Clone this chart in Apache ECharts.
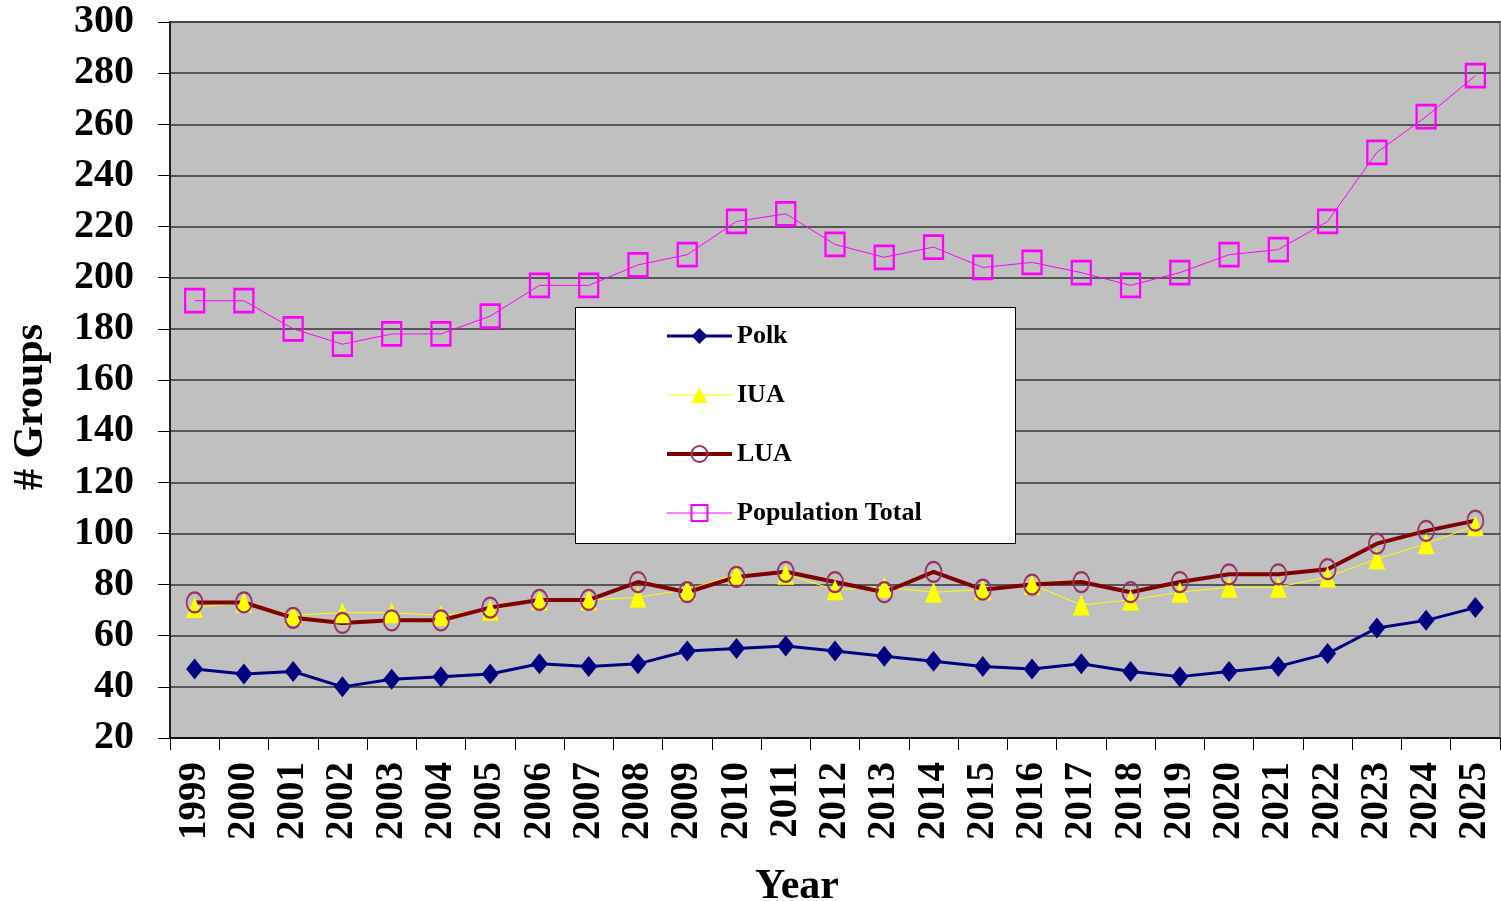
<!DOCTYPE html>
<html lang="en">
<head>
    <meta charset="UTF-8">
    <title>Groups by Year</title>
    <script src="https://cdn.jsdelivr.net/npm/echarts@6/dist/echarts.min.js"></script>
    <style>
        html, body{
            margin: 0;
            padding: 0;
            background: #fff;
        }
        #box{
            width: 1501px;
            height: 901px;
        }
    </style>
</head>
<body>
<div id="box"></div>
<script>
    var years = ['1999','2000','2001','2002','2003','2004','2005','2006','2007','2008','2009','2010','2011','2012',
        '2013','2014','2015','2016','2017','2018','2019','2020','2021','2022','2023','2024','2025'];
    var polk = [47, 45, 46, 40, 43, 44, 45, 49, 48, 49, 54, 55, 56, 54, 52, 50, 48, 47, 49, 46, 44, 46, 48, 53, 63, 66, 71];
    var iua = [71, 73, 68, 69, 69, 68, 70, 74, 74, 75, 78, 84, 84, 78, 79, 77, 78, 80, 72, 74, 77, 79, 79, 83, 90, 96, 103];
    var lua = [73, 73, 67, 65, 66, 66, 71, 74, 74, 81, 77, 83, 85, 81, 77, 85, 78, 80, 81, 77, 81, 84, 84, 86, 96, 101, 105];
    var popTotal = [191, 191, 180, 174, 178, 178, 185, 197, 197, 205, 209, 222, 225, 213, 208, 212, 204, 206, 202, 197, 202, 209, 211, 222, 249, 263, 279];

    var serif = '"Liberation Serif", "Times New Roman", serif';

    var myChart = echarts.init(document.getElementById('box'));
    var option = {
        animation: false,
        backgroundColor: '#fff',
        grid: {
            left: 170,
            right: 1,
            top: 22,
            bottom: 163,
            outerBoundsMode: 'none',
            containLabel: false,
            show: true,
            backgroundColor: '#C0C0C0',
            borderColor: '#808080',
            borderWidth: 2
        },
        graphic: [
            {
                type: 'rect',
                z: 50,
                shape: {x: 575.5, y: 307.5, width: 440, height: 236},
                style: {fill: '#fff', stroke: '#000', lineWidth: 1}
            }
        ],
        legend: {
            orient: 'vertical',
            left: 665,
            top: 323,
            z: 60,
            itemWidth: 65,
            itemHeight: 20,
            itemGap: 33,
            padding: 0,
            textStyle: {
                fontFamily: serif,
                fontWeight: 'bold',
                fontSize: 26,
                lineHeight: 26,
                color: '#000'
            },
            data: [
                {name: 'Polk', lineStyle: {width: 3}},
                {name: 'IUA', lineStyle: {width: 1}},
                {name: 'LUA', lineStyle: {width: 4}},
                {name: 'Population Total', lineStyle: {width: 1}}
            ]
        },
        xAxis: {
            type: 'category',
            data: years,
            boundaryGap: true,
            name: 'Year',
            nameLocation: 'middle',
            nameGap: 128,
            nameTextStyle: {
                fontFamily: serif,
                fontWeight: 'bold',
                fontSize: 42,
                color: '#000',
                padding: [0, 76, 0, 0]
            },
            axisLine: {lineStyle: {color: '#000', width: 1.5}},
            axisTick: {show: true, alignWithLabel: false, interval: 0, length: 12, lineStyle: {color: '#000'}},
            axisLabel: {
                interval: 0,
                rotate: 90,
                margin: 24,
                fontFamily: serif,
                fontWeight: 'bold',
                fontSize: 39,
                color: '#000'
            },
            splitLine: {show: false}
        },
        yAxis: {
            type: 'value',
            min: 20,
            max: 300,
            interval: 20,
            name: '# Groups',
            nameLocation: 'middle',
            nameGap: 118,
            nameTextStyle: {
                fontFamily: serif,
                fontWeight: 'bold',
                fontSize: 42,
                color: '#000',
                padding: [0, 54, 0, 0]
            },
            axisLine: {show: true, lineStyle: {color: '#000', width: 1.5}},
            axisTick: {show: true, length: 12, lineStyle: {color: '#000'}},
            axisLabel: {
                margin: 36,
                fontFamily: serif,
                fontWeight: 'bold',
                fontSize: 40,
                color: '#000'
            },
            splitLine: {lineStyle: {color: '#333', width: 1.5}}
        },
        series: [
            {
                name: 'Polk',
                type: 'line',
                data: polk,
                symbol: 'diamond',
                symbolSize: [17, 21],
                lineStyle: {color: '#000080', width: 3},
                itemStyle: {color: '#000080'}
            },
            {
                name: 'IUA',
                type: 'line',
                data: iua,
                symbol: 'triangle',
                symbolSize: [17, 21],
                lineStyle: {color: '#FFFF00', width: 1},
                itemStyle: {color: '#FFFF00'}
            },
            {
                name: 'LUA',
                type: 'line',
                data: lua,
                symbol: 'circle',
                symbolSize: [16, 20],
                lineStyle: {color: '#800000', width: 4},
                itemStyle: {color: 'rgba(0,0,0,0)', borderColor: '#993366', borderWidth: 2}
            },
            {
                name: 'Population Total',
                type: 'line',
                data: popTotal,
                symbol: 'rect',
                symbolSize: [19, 23],
                lineStyle: {color: '#FF00FF', width: 1},
                itemStyle: {color: 'rgba(0,0,0,0)', borderColor: '#FF00FF', borderWidth: 2.5}
            }
        ]
    };
    myChart.setOption(option, true);
</script>
</body>
</html>
